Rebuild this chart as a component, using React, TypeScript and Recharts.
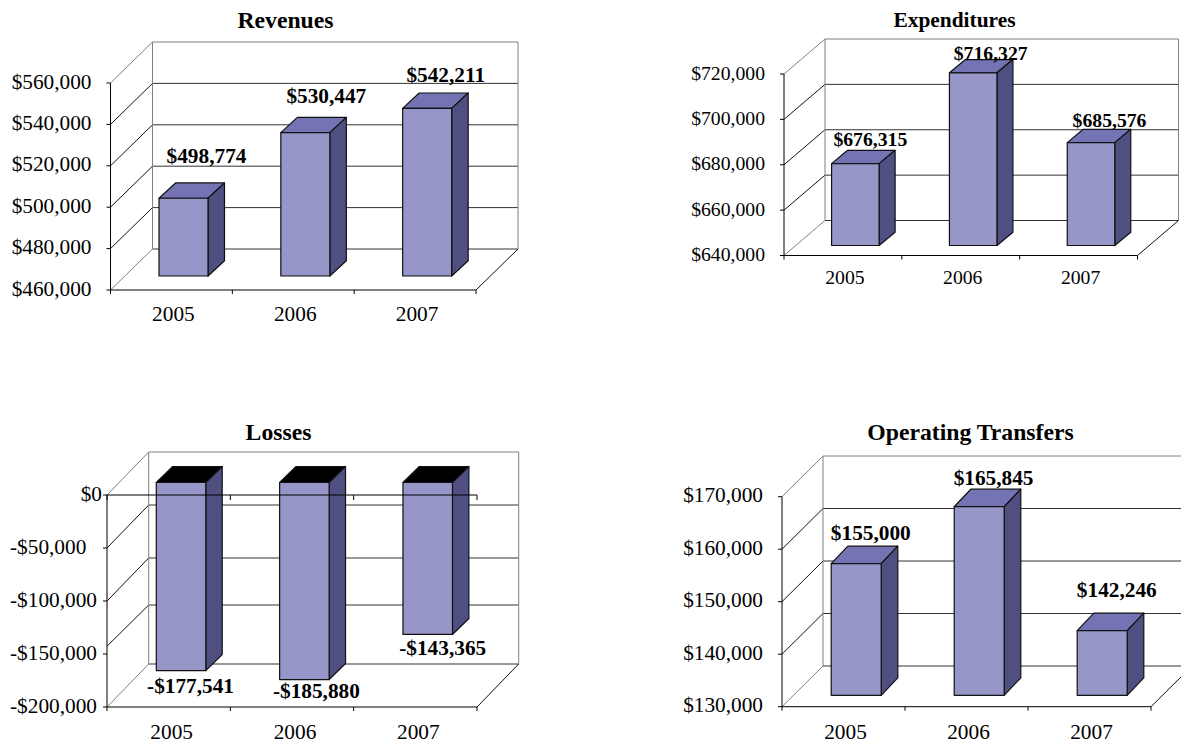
import { BarChart, Bar, XAxis, YAxis, CartesianGrid, LabelList, ReferenceLine } from "recharts";

const years = ["2005", "2006", "2007"];
const revenues = [498774, 530447, 542211];
const expenditures = [676315, 716327, 685576];
const losses = [-177541, -185880, -143365];
const transfers = [155000, 165845, 142246];

const revenueTicks = [460000, 480000, 500000, 520000, 540000, 560000];
const expenditureTicks = [640000, 660000, 680000, 700000, 720000];
const lossTicks = [-200000, -150000, -100000, -50000, 0];
const transferTicks = [130000, 140000, 150000, 160000, 170000];

const PAGE_W = 1181;
const PAGE_H = 740;
const FONT = '"Liberation Serif", serif';

const money = (v: number) => (v < 0 ? "-" : "") + "$" + Math.abs(v).toLocaleString("en-US");

const panels = [
  {
    title: "Revenues", titleX: 285.5, titleY: 20, titleSize: 23.7, fontSize: 21.3,
    values: revenues, ticks: revenueTicks,
    left: 110.5, right: 476, top: 83, bottom: 290,
    wallDx: 42, wallDy: -41, barW: 49, barDx: 12.5, barDy: -11.5, baseDy: -14, sideDx: 16.5, sideDy: -15.3,
    labelShift: [[23, -27], [21, -21], [18.6, -18]], yearDy: 24, yearDx: 2,
  },
  {
    title: "Expenditures", titleX: 954.5, titleY: 20, titleSize: 21.4, fontSize: 19.7,
    values: expenditures, ticks: expenditureTicks,
    left: 784, right: 1137.5, top: 74, bottom: 255.5,
    wallDx: 41, wallDy: -35, barW: 47.5, barDx: 12.6, barDy: -9.5, baseDy: -10, sideDx: 16, sideDy: -13.3,
    labelShift: [[15, -11], [17.5, -6.7], [18.5, -9]], yearDy: 21.6, yearDx: 2,
  },
  {
    title: "Losses", titleX: 278.5, titleY: 431.5, titleSize: 23.7, fontSize: 21.3,
    values: losses, ticks: lossTicks,
    left: 107, right: 477, top: 495, bottom: 707,
    wallDx: 41.7, wallDy: -43, barW: 49.5, barDx: 12.3, barDy: -12.5, baseDy: -12.5, sideDx: 16.4, sideDy: -16,
    labelShift: [[9.5, 15.3], [12, 11.7], [15, 13.6]], yearDy: 25, yearDx: 3, topFill: "#000000", zeroLine: true,
    rowNudge: { [-150000]: -6 },
  },
  {
    title: "Operating Transfers", titleX: 970.5, titleY: 431.5, titleSize: 23.7, fontSize: 21.3,
    values: transfers, ticks: transferTicks,
    left: 782, right: 1151, top: 496.7, bottom: 706.7,
    wallDx: 41, wallDy: -40.7, barW: 50, barDx: 12.2, barDy: -11.8, baseDy: -11.4, sideDx: 16.6, sideDy: -17.5,
    labelShift: [[14.6, -13.3], [14.4, -11.3], [14.6, -22.7]], yearDy: 25, yearDx: 2,
  },
];

const Panel = ({ p }: { p: any }) => {
  const data = years.map((year, i) => ({ year, value: p.values[i] }));
  const band = (p.right - p.left) / years.length;
  const min = p.ticks[0];
  const max = p.ticks[p.ticks.length - 1];

  // one grid row = diagonal on the side wall + line on the back wall
  const gridRow = (g: any) => {
    const isTop = Math.abs(g.y1 - g.y) < 0.5;
    const isBottom = Math.abs(g.y1 - (g.y + g.height)) < 0.5;
    const edge = isTop || isBottom;
    const frac = (g.y1 - g.y) / g.height;
    const rowValue = Math.round((max - frac * (max - min)) / 1000) * 1000;
    const nudge = (p.rowNudge && p.rowNudge[rowValue]) || 0;
    const backX1 = g.x1 + p.wallDx;
    const backX2 = g.x2 + p.wallDx;
    const frontY = g.y1 + nudge * 1.3;
    const backY = g.y1 + p.wallDy + nudge;
    return (
      <g key={g.key}>
        <line x1={g.x1} y1={frontY} x2={backX1} y2={backY} stroke={edge ? "#808080" : "#111"} />
        <line x1={backX1} y1={backY} x2={backX2} y2={backY} stroke={isTop ? "#808080" : "#333"} />
        {isTop && (
          <>
            <line x1={backX1} y1={backY} x2={backX1} y2={backY + g.height} stroke="#808080" />
            <line x1={backX2} y1={backY} x2={backX2} y2={backY + g.height} stroke="#808080" />
          </>
        )}
        {isBottom && <line x1={g.x2} y1={g.y1} x2={backX2} y2={backY} stroke="#111" />}
      </g>
    );
  };

  const yTick = (t: any) => {
    const v = t.payload.value;
    const leftAligned = p.zeroLine && v !== 0;
    return (
      <text
        x={leftAligned ? 10 : p.left - (p.zeroLine ? 5 : 19)}
        y={t.y - 1.5}
        textAnchor={leftAligned ? "start" : "end"}
        dominantBaseline="central"
        fontFamily={FONT}
        fontSize={p.fontSize}
        fill="#000"
      >
        {money(v)}
      </text>
    );
  };

  const xTick = (t: any) => (
    <g>
      <line x1={t.x - band / 2} y1={t.y} x2={t.x - band / 2} y2={t.y + 4} stroke="#000" />
      {t.index === years.length - 1 && (
        <line x1={t.x + band / 2} y1={t.y} x2={t.x + band / 2} y2={t.y + 4} stroke="#000" />
      )}
      <text
        x={t.x + p.yearDx}
        y={t.y + p.yearDy}
        textAnchor="middle"
        dominantBaseline="central"
        fontFamily={FONT}
        fontSize={p.fontSize}
        fill="#000"
      >
        {t.payload.value}
      </text>
    </g>
  );

  const box3d = (b: any) => {
    const a = Math.min(b.y, b.y + b.height);
    const z = Math.max(b.y, b.y + b.height);
    const x0 = b.x + p.barDx;
    const x1 = x0 + b.width;
    const y0 = a + p.barDy;
    const y1 = z + (p.values[b.index] < 0 ? p.barDy : p.baseDy);
    const sx = x1 + p.sideDx;
    return (
      <g stroke="#111" strokeWidth={1.2} strokeLinejoin="round">
        <polygon
          points={`${x0},${y0} ${x1},${y0} ${sx},${y0 + p.sideDy} ${x0 + p.sideDx},${y0 + p.sideDy}`}
          fill={p.topFill || "#7474B4"}
        />
        <polygon
          points={`${x1},${y0} ${sx},${y0 + p.sideDy} ${sx},${y1 + p.sideDy} ${x1},${y1}`}
          fill="#4F4F82"
        />
        <rect x={x0} y={y0} width={b.width} height={y1 - y0} fill="#9696C8" />
      </g>
    );
  };

  const valueLabel = (l: any) => {
    const [nx, ny] = p.labelShift[l.index];
    const a = Math.min(l.y, l.y + l.height);
    const z = Math.max(l.y, l.y + l.height);
    const anchorY = l.value < 0 ? z + p.barDy : a + p.barDy + p.sideDy;
    return (
      <text
        x={l.x + l.width / 2 + p.barDx + nx}
        y={anchorY + ny}
        textAnchor="middle"
        dominantBaseline="central"
        fontFamily={FONT}
        fontSize={p.fontSize}
        fontWeight="bold"
        fill="#000"
      >
        {money(l.value)}
      </text>
    );
  };

  return (
    <div style={{ position: "absolute", left: 0, top: 0 }}>
      <BarChart
        width={PAGE_W}
        height={PAGE_H}
        data={data}
        barSize={p.barW}
        margin={{ top: p.top, left: p.left - 60, right: PAGE_W - p.right, bottom: PAGE_H - p.bottom - 30 }}
      >
        <CartesianGrid vertical={false} horizontal={gridRow} />
        <XAxis
          dataKey="year"
          height={30}
          stroke="#000"
          interval={0}
          tickLine={false}
          tickSize={0}
          tickMargin={0}
          tick={xTick}
        />
        <YAxis width={60} domain={[min, max]} ticks={p.ticks} interval={0} stroke="#000" tickSize={4} tick={yTick} />
        <Bar dataKey="value" isAnimationActive={false} shape={box3d}>
          <LabelList dataKey="value" content={valueLabel} />
        </Bar>
        {p.zeroLine && (
          <ReferenceLine
            y={0}
            zIndex={900}
            shape={(r: any) => (
              <g stroke="#000">
                <line x1={r.x1} y1={r.y1} x2={r.x2} y2={r.y2} />
                {[0, 1, 2, 3].map((k) => (
                  <line key={k} x1={r.x1 + k * band} y1={r.y1} x2={r.x1 + k * band} y2={r.y1 + 5} />
                ))}
              </g>
            )}
          />
        )}
      </BarChart>
      <div
        style={{
          position: "absolute",
          left: p.titleX - 150,
          top: p.titleY - 14,
          width: 300,
          height: 28,
          lineHeight: "28px",
          textAlign: "center",
          fontFamily: FONT,
          fontWeight: "bold",
          fontSize: p.titleSize,
        }}
      >
        {p.title}
      </div>
    </div>
  );
};

export default function App() {
  return (
    <div>
      {panels.map((p) => (
        <Panel key={p.title} p={p} />
      ))}
    </div>
  );
}
